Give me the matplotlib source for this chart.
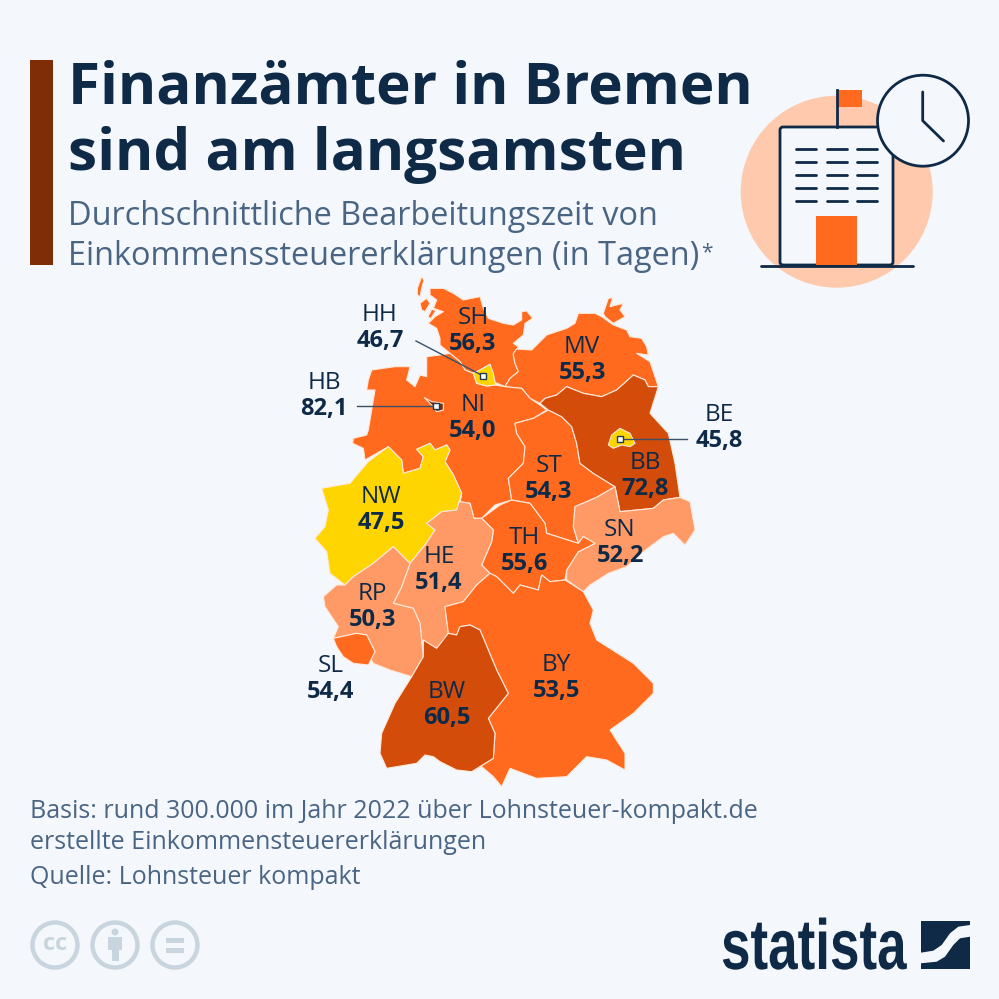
import matplotlib
matplotlib.use("Agg")
import matplotlib.pyplot as plt
from matplotlib.patches import Polygon, Circle, Rectangle, FancyBboxPatch
from matplotlib.patheffects import AbstractPathEffect
from matplotlib.transforms import Affine2D

# ---------- data ----------
states = ["SH", "MV", "HH", "HB", "NI", "BE", "BB", "ST", "NW", "SN", "TH", "HE", "RP", "SL", "BY", "BW"]
days = [56.3, 55.3, 46.7, 82.1, 54.0, 45.8, 72.8, 54.3, 47.5, 52.2, 55.6, 51.4, 50.3, 54.4, 53.5, 60.5]
bin_edges = [50, 53, 60, 80]
bin_colors = ["#FFD500", "#FF9A66", "#FF6A1F", "#D34C0A", "#7A2D0C"]

title_lines = ["Finanzämter in Bremen", "sind am langsamsten"]
subtitle_lines = ["Durchschnittliche Bearbeitungszeit von", "Einkommenssteuererklärungen (in Tagen)"]
footer_lines = ["Basis: rund 300.000 im Jahr 2022 über Lohnsteuer-kompakt.de",
                "erstellte Einkommensteuererklärungen", "Quelle: Lohnsteuer kompakt"]

# ---------- map outlines (map units) ----------
outlines = {
 "SH": [[(390,55),(430,55),(460,70),(490,90),(540,80),(550,115),(565,145),(610,160),(640,165),(665,150),(665,125),(680,123),(698,145),(675,160),(670,195),(640,220),(655,230),(640,255),(645,280),(655,305),(630,325),(615,350),(580,335),(568,305),(570,283),(540,300),(520,310),(495,300),(480,275),(450,250),(420,225),(420,205),(410,175),(385,160),(405,140),(430,125),(400,115),(410,90),(390,75)],
        [(352,55),(365,20),(372,30),(365,55),(360,80),(352,75)],
        [(360,100),(380,85),(390,100),(375,125),(365,120)],
        [(395,118),(408,122),(392,146),(384,140)]],
 "MV": [[(640,250),(650,237),(695,240),(715,220),(740,195),(800,175),(825,160),(835,130),(885,130),(905,140),(940,165),(980,180),(990,200),(1025,205),(1040,230),(1045,255),(1010,250),(1050,275),(1075,350),(1045,350),(1035,330),(1000,315),(950,360),(905,380),(850,370),(800,350),(770,375),(735,385),(720,400),(690,385),(665,355),(615,350),(630,325),(655,305),(645,280),(640,255)],
        [(910,130),(925,85),(938,83),(930,110),(970,100),(960,120),(975,140),(940,160),(915,140)]],
 "HH": [[(520,310),(540,300),(570,283),(580,310),(587,345),(560,348),(530,340)]],
 "HB": [[(373,383),(395,395),(430,400),(430,420),(410,425),(395,405)]],
 "NI": [[(380,260),(420,255),(450,250),(480,275),(495,300),(520,310),(530,340),(560,348),(587,345),(615,350),(665,355),(690,385),(720,405),(740,420),(700,445),(645,460),(650,490),(675,530),(670,580),(625,625),(635,690),(585,705),(545,745),(522,745),(510,700),(480,695),(485,670),(460,615),(435,575),(450,540),(440,525),(405,540),(390,520),(350,538),(370,560),(360,595),(310,610),(305,570),(265,530),(195,570),(190,535),(158,520),(160,505),(200,495),(205,480),(225,360),(200,360),(205,330),(215,300),(285,290),(330,290),(320,330),(345,350),(360,315),(380,320)]],
 "ST": [[(745,420),(785,440),(815,470),(830,520),(840,580),(880,610),(945,650),(890,682),(825,710),(820,770),(835,820),(740,790),(735,760),(690,700),(635,690),(625,625),(670,580),(675,530),(650,490),(645,460),(700,445)]],
 "BB": [[(735,385),(770,375),(800,350),(850,370),(905,380),(950,360),(1000,315),(1035,330),(1045,350),(1075,350),(1050,430),(1105,490),(1125,580),(1140,682),(1090,690),(1060,715),(960,725),(945,650),(880,610),(840,580),(830,520),(815,470),(785,440),(745,420),(720,400)]],
 "BE": [[(925,525),(935,495),(960,475),(990,490),(1005,520),(990,530),(965,525),(940,535)]],
 "NW": [[(265,530),(305,570),(310,610),(360,595),(370,560),(350,538),(390,520),(405,540),(440,525),(450,540),(435,575),(460,615),(485,670),(470,720),(425,725),(380,760),(405,780),(375,825),(330,880),(280,830),(220,880),(160,920),(135,945),(90,910),(80,845),(45,805),(75,770),(85,720),(65,655),(150,640),(175,610),(205,575)]],
 "SN": [[(825,710),(890,682),(945,650),(960,725),(1060,715),(1090,690),(1140,682),(1170,695),(1185,780),(1155,825),(1120,790),(1090,800),(1030,845),(980,890),(925,910),(870,945),(850,965),(800,930),(800,900),(835,845),(885,820),(850,800),(835,820),(820,770)]],
 "TH": [[(545,745),(600,705),(635,690),(690,700),(735,760),(740,790),(835,820),(850,800),(885,820),(835,845),(800,900),(795,930),(750,935),(725,915),(715,960),(660,945),(640,970),(590,920),(570,910),(545,885),(575,815),(580,780)]],
 "HE": [[(470,720),(485,670),(480,695),(510,700),(522,745),(545,745),(580,780),(575,815),(545,885),(570,910),(530,945),(490,995),(435,1010),(445,1090),(440,1110),(410,1135),(365,1110),(360,1060),(340,1015),(280,1000),(305,950),(330,880),(375,825),(405,780),(380,760),(425,725)]],
 "RP": [[(135,945),(160,920),(220,880),(280,830),(330,880),(305,950),(280,1000),(340,1015),(360,1060),(365,1110),(370,1160),(335,1220),(270,1200),(220,1180),(205,1155),(225,1145),(200,1095),(170,1090),(100,1105),(115,1070),(75,1010),(70,980),(110,945)]],
 "SL": [[(100,1105),(170,1090),(200,1095),(225,1145),(205,1185),(160,1180),(130,1160),(110,1130)]],
 "BY": [[(570,910),(590,920),(640,970),(660,945),(715,960),(725,915),(750,935),(795,930),(850,965),(880,1020),(870,1060),(890,1110),(1000,1180),(1060,1240),(1060,1270),(1000,1330),(930,1380),(975,1450),(975,1500),(920,1470),(860,1460),(800,1520),(710,1525),(630,1495),(605,1550),(580,1520),(545,1490),(515,1505),(580,1465),(585,1390),(565,1345),(625,1270),(590,1200),(540,1080),(510,1065),(480,1070),(470,1095),(445,1090),(435,1010),(490,995),(530,945)]],
 "BW": [[(370,1110),(410,1135),(445,1090),(470,1095),(480,1070),(510,1065),(540,1080),(590,1200),(625,1270),(565,1345),(585,1390),(580,1465),(515,1505),(470,1500),(420,1475),(400,1460),(375,1455),(350,1480),(260,1495),(240,1450),(245,1390),(285,1300),(335,1220),(370,1160)]],
}
draw_order = ["SH","MV","NI","ST","BB","NW","SN","TH","HE","RP","SL","BY","BW","HH","HB","BE"]

label_pos = {"SH":(473,318),"MV":(582,347),"HH":(380,315),"HB":(324,383),"NI":(473,405),"BE":(719,415),
             "ST":(549,466),"BB":(645,463),"NW":(381,497),"SN":(620,530),"TH":(524,538),"HE":(439,557),
             "RP":(372,594),"SL":(331,666),"BY":(556,665),"BW":(447,692)}
leaders = [((416,341),(482.7,375.7)), ((357,406),(436,406)), ((687,439.3),(620,439.3))]

# ---------- styles ----------
BG = "#F4F8FC"; NAVY = "#0F2A47"; SLATE = "#4A6583"; ORANGE = "#FF6A1F"; PEACH = "#FFC9AD"; GREY = "#C8D5DE"
FONT = ["Open Sans", "DejaVu Sans"]
plt.rcParams["font.family"] = FONT

class Stretch(AbstractPathEffect):
    """Scale a text's glyphs about a device-space anchor."""
    def __init__(self, anchor, sx, sy):
        super().__init__()
        self.anchor, self.sx, self.sy = anchor, sx, sy
    def draw_path(self, renderer, gc, tpath, affine, rgbFace=None):
        ax_, ay_ = self.anchor
        t = affine + Affine2D().translate(-ax_, -ay_).scale(self.sx, self.sy).translate(ax_, ay_)
        renderer.draw_path(gc, tpath, t, rgbFace)

fig = plt.figure(figsize=(9.99, 9.99), dpi=100, facecolor=BG)
ax = fig.add_axes([0, 0, 1, 1])
ax.set_xlim(0, 999); ax.set_ylim(999, 0); ax.axis("off")

def color_for(v):
    for edge, c in zip(bin_edges, bin_colors):
        if v < edge:
            return c
    return bin_colors[-1]

def to_px(pts):
    return [(300 + x / 3, 270 + y / 3) for x, y in pts]

value_by_state = dict(zip(states, days))

# header
ax.add_patch(Rectangle((30, 60), 23, 205, fc="#7E2D06", ec="none"))
for s, y in zip(title_lines, (103, 170)):
    ax.text(68, y, s, fontsize=42, fontweight="bold", color=NAVY, va="baseline", ha="left")
for s, y in zip(subtitle_lines, (225, 265)):
    ax.text(68, y, s, fontsize=23.4, color=SLATE, va="baseline", ha="left")
ax.text(701, 258, "*", fontsize=15, color=SLATE, va="baseline", ha="left")

# icon
ax.add_patch(Circle((836.7, 191.7), 96, fc=PEACH, ec="none"))
ax.add_patch(FancyBboxPatch((780, 127), 113, 138, boxstyle="round,pad=0,rounding_size=3", fc=BG, ec=NAVY, lw=2))
ax.plot([836.7, 836.7], [90, 127], color=NAVY, lw=2)
ax.add_patch(Rectangle((838, 90), 24, 17, fc=ORANGE, ec="none"))
for wx in (795.7, 826.7, 857.3):
    for wy in (148.7, 161.7, 174.7, 187.7, 200.7):
        ax.plot([wx, wx + 20], [wy, wy], color=NAVY, lw=2, solid_capstyle="round")
ax.add_patch(Rectangle((816.3, 215.7), 41, 49, fc=ORANGE, ec="none"))
ax.plot([761, 913], [265.5, 265.5], color=NAVY, lw=2, solid_capstyle="round")
ax.add_patch(Circle((923, 120.7), 45.5, fc=BG, ec=NAVY, lw=2))
ax.plot([922.7, 922.7, 943.5], [92, 120.7, 141], color=NAVY, lw=2, solid_capstyle="round", solid_joinstyle="round")

# map
for st in draw_order:
    for part in outlines[st]:
        ax.add_patch(Polygon(to_px(part), closed=True, fc=color_for(value_by_state[st]),
                             ec="#FFE9DC", lw=0.8, joinstyle="round"))

# leaders
for a, b in leaders:
    ax.plot([a[0], b[0]], [a[1], b[1]], color="#3B4F66", lw=1)
    ax.add_patch(Rectangle((b[0] - 3, b[1] - 3), 6, 6, fc="white", ec="#223A55", lw=1, zorder=5))

# labels
for st, v in zip(states, days):
    x, y = label_pos[st]
    ax.text(x, y, st, fontsize=17.5, color=NAVY, ha="center", va="center")
    ax.text(x, y + 26, f"{v:.1f}".replace(".", ","), fontsize=17, fontweight="bold", color=NAVY, ha="center", va="center")

# footer
for s, y in zip(footer_lines, (818, 849, 884)):
    ax.text(30, y, s, fontsize=18, color=SLATE, va="baseline", ha="left")

# licence icons
for cx in (55, 115, 175):
    ax.add_patch(Circle((cx, 945), 22.5, fc="none", ec=GREY, lw=3.2))
ax.text(55, 944, "cc", fontsize=17, fontweight="bold", color=GREY, ha="center", va="center")
ax.add_patch(Circle((115, 932), 3.5, fc=GREY, ec="none"))
ax.add_patch(Rectangle((108, 937), 14, 13, fc=GREY, ec="none"))
ax.add_patch(Rectangle((111.5, 950), 7, 11, fc=GREY, ec="none"))
ax.add_patch(Rectangle((166, 938), 18, 5, fc=GREY, ec="none"))
ax.add_patch(Rectangle((166, 948), 18, 5, fc=GREY, ec="none"))

# statista logo
logo = ax.text(721, 969, "statista", fontsize=36, fontweight="bold", family="Liberation Sans",
               color=NAVY, va="baseline", ha="left")
logo.set_path_effects([Stretch((721, 30), 1.06, 1.42)])
ax.add_patch(Rectangle((920.7, 920.7), 49.3, 48.6, fc=NAVY, ec="none"))
ax.add_patch(Polygon([(970, 925), (958.3, 926.7), (950, 933.3), (941.7, 945), (933.3, 950.7), (920.7, 952.7),
                      (920.7, 963.3), (936.7, 961.7), (945, 956.7), (953.3, 945), (960, 938.3), (970, 936.7)], fc=BG, ec="none"))

fig.savefig("out.png", dpi=100, facecolor=BG)
